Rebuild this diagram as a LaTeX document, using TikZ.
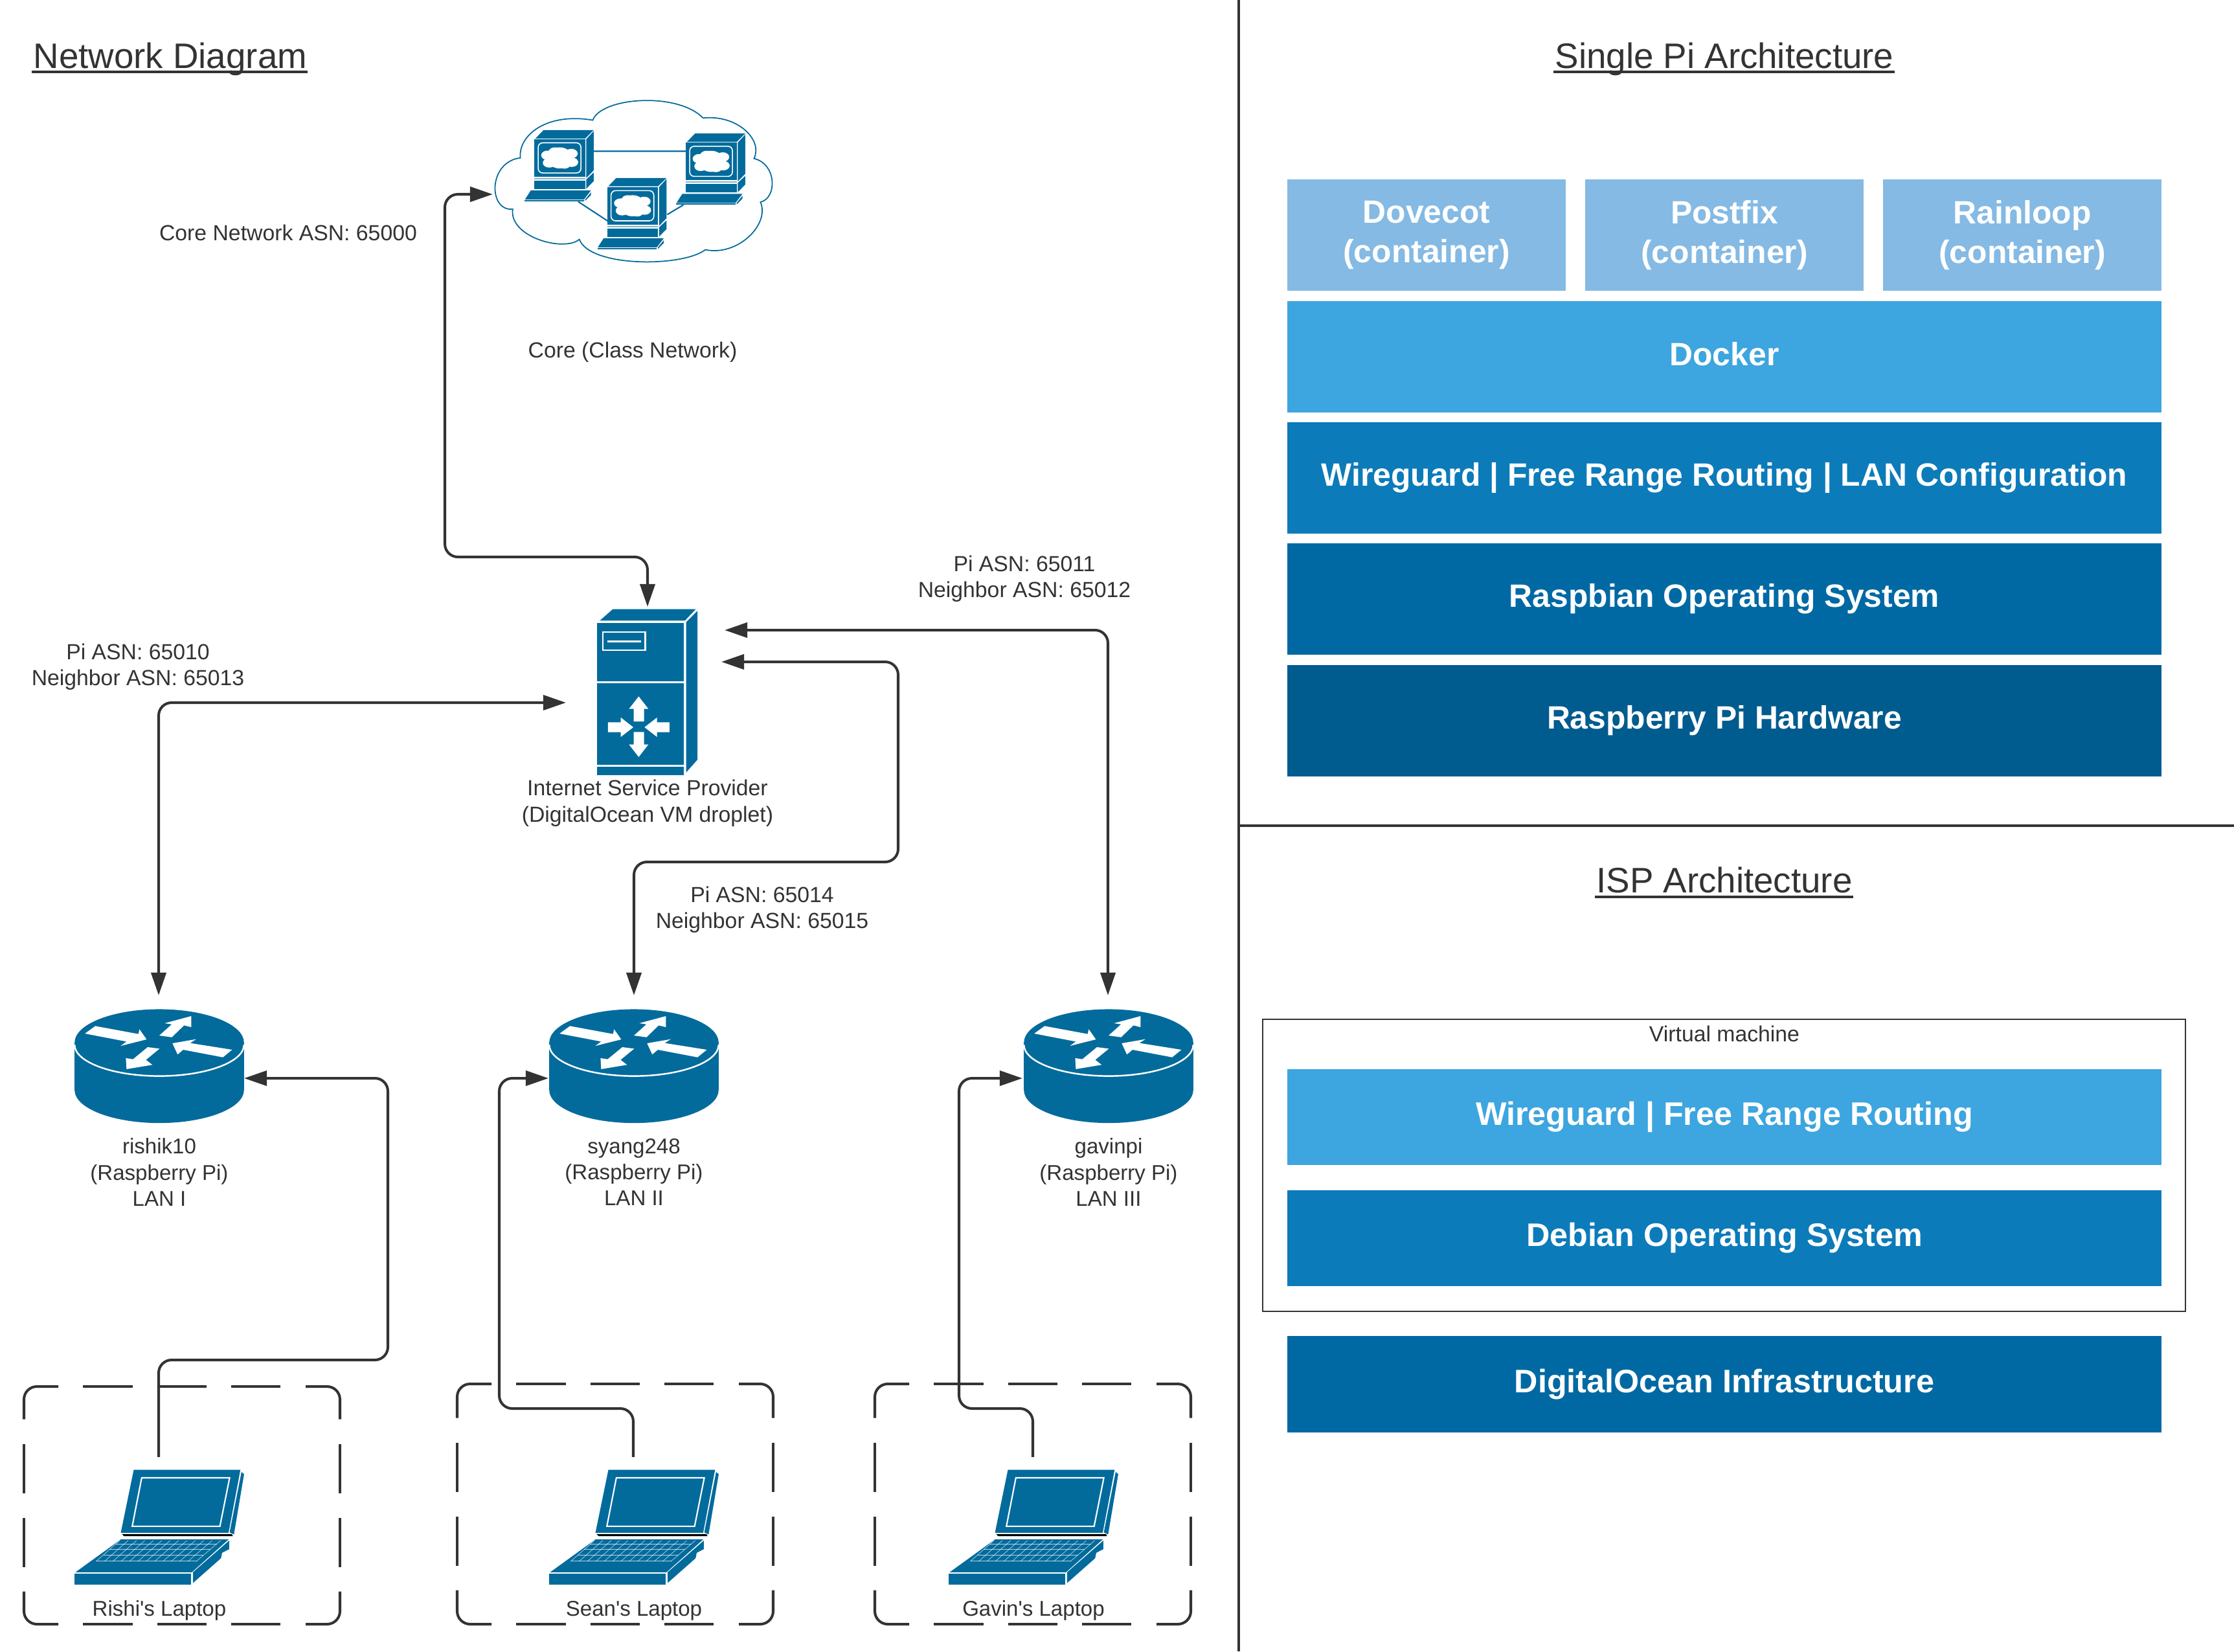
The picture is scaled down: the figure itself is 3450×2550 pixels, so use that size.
\documentclass[tikz,border=0pt]{standalone}
\usepackage{fontspec}
\setmainfont{Liberation Sans}[Ligatures=TeXOff]
\usetikzlibrary{arrows.meta,calc}

\definecolor{inkgray}{HTML}{333333}
\definecolor{ciscoblue}{HTML}{036B9C}
\definecolor{paleblue}{HTML}{84BAE4}
\definecolor{skyblue}{HTML}{3DA5DF}
\definecolor{midblue}{HTML}{0C7BBA}
\definecolor{deepblue}{HTML}{0069A3}
\definecolor{darkblue}{HTML}{005B8F}

\newcommand{\headline}[1]{\setbox0\hbox{#1}\rlap{\kern-0.8pt\rule[-2.28pt]{\dimexpr\wd0+1.2pt\relax}{1.14pt}}\box0}

\tikzset{
	smalltext/.style={font=\fontsize{9.6}{11.4}\selectfont, text=inkgray, align=center, inner sep=0},
	devicetext/.style={font=\fontsize{9.4}{11.4}\selectfont, text=inkgray, align=center, inner sep=0},
	widetext/.style={font=\fontsize{9.6}{11.8}\selectfont, text=inkgray, align=center, inner sep=0},
	headtext/.style={font=\fontsize{15.55}{19}\selectfont, text=inkgray, inner sep=0},
	layerbox/.style={font=\fontsize{14.16}{17.2}\selectfont\bfseries, text=white, align=center, inner sep=0, minimum width=13.5cm},
	isplayer/.style={layerbox, font=\fontsize{14.3}{17.2}\selectfont\bfseries},
	iconspot/.style={inner sep=0, outer sep=0},
	link/.style={draw=inkgray, line width=1.15pt, rounded corners=0.2cm, -{Triangle[length=0.35cm,width=0.23cm]}},
	duplex/.style={link, {Triangle[length=0.35cm,width=0.23cm]}-{Triangle[length=0.35cm,width=0.23cm]}},
	fine/.style={x=0.00333cm, y=-0.00333cm},
	whiteline/.style={draw=white, line width=0.6pt},
	% desktop computer inside the cloud
	pics/station/.style={code={
		\fill[ciscoblue] (390,243) -- (607,243) -- (570,282) -- (355,282) -- cycle;
		\fill[ciscoblue] (575,285) -- (607,248) -- (607,430) -- (575,465) -- cycle;
		\fill[ciscoblue] (350,285) rectangle (570,460);
		\draw[draw=white, line width=0.45pt, rounded corners=2pt] (367,302) rectangle (552,442);
		\fill[white] (460,372) ellipse [x radius=55, y radius=49];
		\foreach \a/\b in {408/360,415/395,510/352,512/392,440/345,480/400} {
			\fill[white] (\a,\b) ellipse [x radius=28, y radius=22];
		}
		\fill[ciscoblue!50] (350,465) rectangle (570,471);
		\fill[ciscoblue] (350,477) rectangle (570,517);
		\fill[ciscoblue] (575,472) -- (607,440) -- (607,480) -- (575,515) -- cycle;
		\fill[ciscoblue] (335,523) -- (595,523) -- (565,565) -- (310,565) -- cycle;
		\fill[ciscoblue] (308,568) rectangle (565,574);
		\fill[ciscoblue] (570,565) -- (595,532) -- (595,545) -- (570,572) -- cycle;
	}},
	% router disc with four arrows
	pics/routerdisc/.style={code={
		\begin{scope}[fine, shift={(-497,-270)}]
			\fill[ciscoblue] (104,270) -- (104,490) arc [start angle=180, end angle=360, x radius=393, y radius=-153] -- (890,270) -- cycle;
			\fill[ciscoblue] (497,270) ellipse [x radius=393, y radius=155];
			\draw[whiteline, line width=0.7pt] (104,280) arc [start angle=180, end angle=360, x radius=393, y radius=-145];
			\fill[white] (152,228) -- (200,193) -- (400,230) -- (405,208) -- (438,255) -- (318,285) -- (345,265) -- cycle;
			\fill[white] (497,237) -- (555,185) -- (522,180) -- (645,147) -- (645,198) -- (612,190) -- (555,245) -- cycle;
			\fill[white] (835,303) -- (792,338) -- (608,303) -- (582,325) -- (558,273) -- (668,254) -- (640,272) -- cycle;
			\fill[white] (443,291) -- (498,298) -- (435,350) -- (465,373) -- (345,393) -- (342,342) -- (375,347) -- cycle;
		\end{scope}
	}},
	% open laptop
	pics/laptop/.style={code={
		\begin{scope}[fine, shift={(-285,-505)}]
			\fill[ciscoblue] (560,510) -- (1055,510) -- (1000,802) -- (500,802) -- cycle;
			\draw[whiteline] (597,547) -- (1005,547) -- (960,772) -- (553,772) -- cycle;
			\fill[ciscoblue] (1060,520) -- (1072,530) -- (1025,810) -- (1005,800) -- cycle;
			\fill[black] (505,808) -- (1015,808) -- (1020,818) -- (515,818) -- cycle;
			\fill[ciscoblue] (500,833) -- (1000,833) -- (830,985) -- (290,985) -- cycle;
			\fill[ciscoblue] (285,993) rectangle (827,1043);
			\fill[ciscoblue] (835,985) -- (1003,838) -- (1003,878) -- (970,895) -- (965,920) -- (835,1035) -- cycle;
			\foreach \r in {855,880,905,932} {
				\draw[draw=white, opacity=0.7, line width=0.2pt] ({495-(\r-838)*1.134},\r) -- ({965-(\r-838)*1.186},\r);
			}
			\foreach \i in {0,...,12} {
				\draw[draw=white, opacity=0.7, line width=0.2pt] (495+\i*39,838) -- (385+\i*38.75,935);
			}
		\end{scope}
	}},
	% dashed frame, width 488, height given
	pics/dashframe/.style={code={
		\pgfmathsetmacro{\mid}{#1/2}
		\draw[draw=inkgray, line width=1.15pt, rounded corners=0.2cm]
			(53,0) -- (0,0) -- (0,\mid-133) (435,0) -- (488,0) -- (488,\mid-133)
			(53,#1) -- (0,#1) -- (0,\mid+133) (435,#1) -- (488,#1) -- (488,\mid+133);
		\foreach \a/\b in {91/167.5,206/282,320/396} {
			\draw[draw=inkgray, line width=1.15pt] (\a,0) -- (\b,0) (\a,#1) -- (\b,#1);
		}
		\foreach \a/\b in {-95/-19,19/95} {
			\draw[draw=inkgray, line width=1.15pt] (0,\mid+\a) -- (0,\mid+\b) (488,\mid+\a) -- (488,\mid+\b);
		}
	}}
}

\begin{document}
\begin{tikzpicture}[x=0.01cm, y=-0.01cm]
	\useasboundingbox (0,0) rectangle (3450,2550);

	% Panel lines
	\draw[draw=inkgray, line width=0.95pt] (1913,0) -- (1913,2550);
	\draw[draw=inkgray, line width=0.95pt] (1913,1275) -- (3450,1275);

	% Titles
	\node[headtext, anchor=west] (nettitle) at (51,91) {\headline{Network Diagram}};
	\node[headtext] (pititle) at (2663,91) {\headline{Single Pi Architecture}};
	\node[headtext] (isptitle) at (2663,1363) {\headline{ISP Architecture}};

	% Core cloud with its three stations
	\begin{scope}[shift={(700,120)}, x=0.00357cm, y=-0.00333cm]
		\draw[draw=ciscoblue, line width=0.5pt, fill=white]
			(290,372) .. controls (280,270) and (400,160) .. (603,197)
			.. controls (640,90) and (970,65) .. (1080,187)
			.. controls (1230,170) and (1340,290) .. (1300,375)
			.. controls (1400,400) and (1400,560) .. (1328,577)
			.. controls (1370,680) and (1230,830) .. (1090,798)
			.. controls (990,880) and (590,880) .. (545,750)
			.. controls (480,810) and (240,740) .. (257,610)
			.. controls (150,620) and (150,390) .. (290,372) -- cycle;
		\draw[draw=ciscoblue, line width=0.6pt] (607,341) -- (1008,341) (540,575) -- (668,665) (925,635) -- (995,590);
		\foreach \dx/\dy in {0/0,655/16,315/222} {
			\pic at (\dx,\dy) {station};
		}
	\end{scope}
	\node[iconspot, minimum width=4.34cm, minimum height=2.4cm] (core) at (978,300) {};
	\node[smalltext] (corelabel) at (977,544) {Core (Class Network)};
	\node[smalltext] (coreasn) at (445,359) {Core Network ASN: 65000};

	% ISP tower
	\begin{scope}[shift={(780,900)}, fine]
		\fill[ciscoblue] (440,175) -- (500,122) -- (885,122) -- (835,175) -- cycle;
		\fill[ciscoblue] (840,183) -- (893,130) -- (893,820) -- (840,880) -- cycle;
		\fill[ciscoblue] (428,185) rectangle (830,457);
		\fill[ciscoblue] (428,467) rectangle (830,845);
		\fill[ciscoblue] (428,852) rectangle (830,893);
		\draw[draw=white, line width=0.7pt] (453,229) rectangle (650,312) (475,272) -- (630,272);
		\fill[white] (620,527) -- (665,585) -- (645,585) -- (645,643) -- (597,643) -- (597,585) -- (575,585) -- cycle;
		\fill[white] (620,808) -- (665,750) -- (645,750) -- (645,692) -- (597,692) -- (597,750) -- (575,750) -- cycle;
		\fill[white] (595,670) -- (537,625) -- (537,647) -- (477,647) -- (477,693) -- (537,693) -- (537,715) -- cycle;
		\fill[white] (647,670) -- (705,625) -- (705,647) -- (763,647) -- (763,693) -- (705,693) -- (705,715) -- cycle;
	\end{scope}
	\node[iconspot, minimum width=2.52cm, minimum height=2.96cm] (isp) at (1000,1085) {};
	\node[widetext] (isplabel) at (1000,1240) {Internet Service Provider\\(DigitalOcean VM droplet)};

	% Routers
	\foreach \cx in {246,979,1712} {
		\pic at (\cx,1610) {routerdisc};
	}
	\node[iconspot, minimum width=2.64cm, minimum height=2.56cm] (rishi) at (245,1665) {};
	\node[iconspot, minimum width=2.64cm, minimum height=2.56cm] (syang) at (979,1665) {};
	\node[iconspot, minimum width=2.64cm, minimum height=2.56cm] (gavin) at (1711,1665) {};
	\node[devicetext] (rishilabel) at (246,1810) {rishik10\\(Raspberry Pi)\\LAN I};
	\node[devicetext] (syanglabel) at (979,1810) {syang248\\(Raspberry Pi)\\LAN II};
	\node[devicetext] (gavinlabel) at (1712,1810) {gavinpi\\(Raspberry Pi)\\LAN III};

	% ASN notes
	\node[smalltext] (rishiasn) at (213,1030) {Pi ASN: 65010\\Neighbor ASN: 65013};
	\node[smalltext] (syangasn) at (1177,1405) {Pi ASN: 65014\\Neighbor ASN: 65015};
	\node[smalltext] (gavinasn) at (1582,894) {Pi ASN: 65011\\Neighbor ASN: 65012};

	% Laptops in their dashed frames
	\pic at (37,2141) {dashframe=367};
	\pic at (706,2137) {dashframe=371};
	\pic at (1351,2137) {dashframe=371};
	\foreach \lx in {115,848,1465} {
		\pic at (\lx,2268) {laptop};
	}
	\node[iconspot, minimum width=2.62cm, minimum height=1.98cm] (rishilap) at (245,2349) {};
	\node[iconspot, minimum width=2.62cm, minimum height=1.98cm] (seanlap) at (978,2349) {};
	\node[iconspot, minimum width=2.62cm, minimum height=1.98cm] (gavinlap) at (1595,2349) {};
	\node[devicetext] (rishilaplabel) at (246,2487) {Rishi's Laptop};
	\node[devicetext] (seanlaplabel) at (979,2487) {Sean's Laptop};
	\node[devicetext] (gavinlaplabel) at (1596,2487) {Gavin's Laptop};

	% Connectors
	\draw[duplex] (core.west) -- (687,300) -- (687,860) -- (1000,860) -- (isp.north);
	\draw[duplex] (isp.west) -- (245,1085) -- (rishi.north);
	\draw[duplex] ($(isp.east)+(-12,-63)$) -- (1387,1022) -- (1387,1331) -- (979,1331) -- (syang.north);
	\draw[duplex] ($(isp.east)+(-7,-112)$) -- (1711,973) -- (gavin.north);
	\draw[link] (rishilap.north) -- (245,2100) -- (599,2100) -- (599,1665) -- (rishi.east);
	\draw[link] (seanlap.north) -- (978,2175) -- (771,2175) -- (771,1665) -- (syang.west);
	\draw[link] (gavinlap.north) -- (1595,2175) -- (1481,2175) -- (1481,1665) -- (gavin.west);

	% Single Pi stack
	\node[layerbox, fill=paleblue, minimum width=4.3cm, minimum height=1.72cm] (dovecot) at (2203,363) {Dovecot\\(container)};
	\node[layerbox, fill=paleblue, minimum width=4.3cm, minimum height=1.72cm] (postfix) at (2663,363) {Postfix\\(container)};
	\node[layerbox, fill=paleblue, minimum width=4.3cm, minimum height=1.72cm] (rainloop) at (3123,363) {Rainloop\\(container)};
	\node[layerbox, fill=skyblue, minimum height=1.72cm, text depth=0.1cm] (docker) at (2663,551) {Docker};
	\node[layerbox, fill=midblue, minimum height=1.72cm] (wireguard) at (2663,738) {Wireguard | Free Range Routing | LAN Configuration};
	\node[layerbox, fill=deepblue, minimum height=1.72cm] (raspbian) at (2663,925) {Raspbian Operating System};
	\node[layerbox, fill=darkblue, minimum height=1.72cm] (hardware) at (2663,1113) {Raspberry Pi Hardware};

	% ISP stack
	\draw[draw=inkgray, line width=0.5pt] (1950,1574) rectangle (3375,2025);
	\node[smalltext] (vmlabel) at (2663,1596) {Virtual machine};
	\node[isplayer, fill=skyblue, minimum height=1.48cm] (ispwire) at (2663,1725) {Wireguard | Free Range Routing};
	\node[isplayer, fill=midblue, minimum height=1.48cm] (debian) at (2663,1912) {Debian Operating System};
	\node[isplayer, fill=deepblue, minimum height=1.49cm] (infra) at (2663,2137.5) {DigitalOcean Infrastructure};
\end{tikzpicture}
\end{document}
